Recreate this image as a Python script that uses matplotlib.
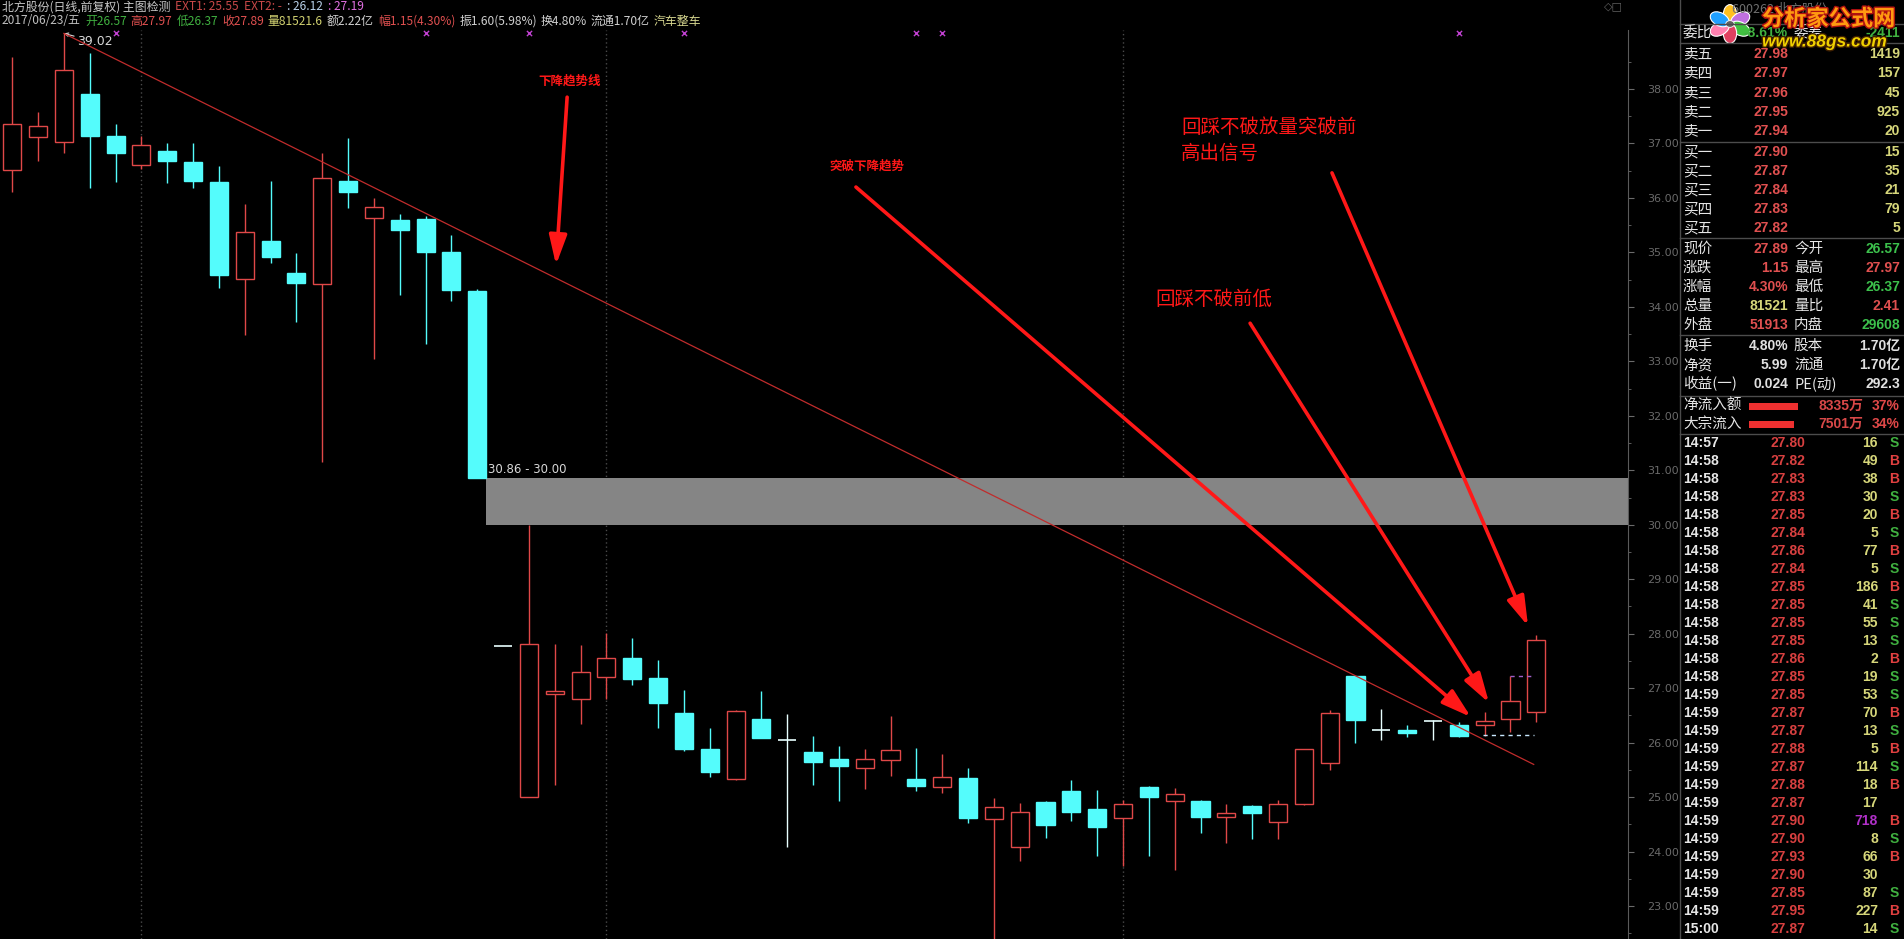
import matplotlib
matplotlib.use("Agg")
import matplotlib.pyplot as plt
import matplotlib.patheffects as pe
from matplotlib.patches import Rectangle, Ellipse
import numpy as np

plt.rcParams['font.family'] = ['Noto Sans CJK SC', 'DejaVu Sans']

W, H = 1904, 939

# ---- daily candles (北方股份, 日线 前复权) ----
opens = [36.51, 37.11, 37.02, 37.90, 37.14, 36.60, 36.86, 36.66, 36.29, 34.51,
         35.21, 34.62, 34.42, 36.31, 35.63, 35.59, 35.61, 35.00, 34.30, 27.78,
         25.01, 26.90, 26.81, 27.20, 27.55, 27.18, 26.54, 25.88, 25.33, 26.43,
         26.05, 25.83, 25.70, 25.54, 25.69, 25.33, 25.19, 25.35, 24.59, 24.08,
         24.91, 25.11, 24.78, 24.61, 25.19, 24.92, 24.93, 24.63, 24.84, 24.54,
         24.87, 25.62, 27.22, 26.23, 26.23, 26.39, 26.32, 26.32, 26.43, 26.57]
highs = [38.58, 37.57, 39.02, 38.66, 37.36, 37.14, 37.01, 37.01, 36.58, 35.89,
         36.32, 34.98, 36.82, 37.10, 35.99, 35.71, 35.66, 35.32, 34.32, 27.78,
         30.00, 27.81, 27.79, 28.01, 27.92, 27.52, 26.97, 26.27, 26.60, 26.95,
         26.53, 26.13, 25.94, 25.89, 26.48, 25.91, 25.80, 25.54, 24.98, 24.90,
         24.92, 25.31, 25.13, 24.95, 25.20, 25.16, 24.94, 24.87, 24.86, 24.95,
         25.89, 26.59, 27.23, 26.61, 26.32, 26.42, 26.37, 26.56, 27.22, 27.97]
lows = [36.11, 36.68, 36.83, 36.19, 36.30, 36.53, 36.28, 36.19, 34.34, 33.48,
        34.80, 33.73, 31.16, 35.82, 33.04, 34.21, 33.32, 34.11, 30.86, 27.78,
        25.00, 25.22, 26.34, 26.80, 27.06, 26.27, 25.85, 25.36, 25.31, 26.08,
        24.09, 25.22, 24.93, 25.14, 25.39, 25.12, 25.08, 24.53, 22.30, 23.83,
        24.25, 24.57, 23.92, 23.74, 23.92, 23.66, 24.35, 24.16, 24.24, 24.23,
        24.86, 25.49, 26.00, 26.04, 26.11, 26.04, 26.10, 26.13, 26.19, 26.37]
closes = [37.35, 37.32, 38.34, 37.14, 36.83, 36.98, 36.68, 36.32, 34.58, 35.37,
          34.91, 34.43, 36.36, 36.10, 35.83, 35.42, 35.00, 34.31, 30.86, 27.78,
          27.81, 26.95, 27.29, 27.55, 27.17, 26.72, 25.89, 25.47, 26.58, 26.09,
          26.05, 25.65, 25.58, 25.70, 25.87, 25.21, 25.37, 24.62, 24.81, 24.72,
          24.49, 24.73, 24.46, 24.87, 25.01, 25.05, 24.64, 24.71, 24.71, 24.87,
          25.88, 26.54, 26.42, 26.23, 26.18, 26.39, 26.13, 26.40, 26.76, 27.89]

peak_idx, peak_val = 2, 39.02
trend_x = [2, 58.9]
trend_y = [39.02, 25.6]
gap_low, gap_high = 30.00, 30.86
gap_from = 18
signal_idx = [4, 16, 20, 26, 35, 36, 56]
support_level, support_from = 26.14, 57
resist_level, resist_from = 27.22, 58
month_sep = [5, 23, 43]

# ---- quote panel ----
ask_names = ['卖五', '卖四', '卖三', '卖二', '卖一']
ask_prices = [27.98, 27.97, 27.96, 27.95, 27.94]
ask_vols = [1419, 157, 45, 925, 20]
bid_names = ['买一', '买二', '买三', '买四', '买五']
bid_prices = [27.90, 27.87, 27.84, 27.83, 27.82]
bid_vols = [15, 35, 21, 79, 5]

RED, GRN, YEL, WHT = '#e05050', '#3cc04c', '#d6d67a', '#e0e0e0'
stat_rows = [
    ('现价', '27.89', RED, '今开', '26.57', GRN),
    ('涨跌', '1.15', RED, '最高', '27.97', RED),
    ('涨幅', '4.30%', RED, '最低', '26.37', GRN),
    ('总量', '81521', YEL, '量比', '2.41', RED),
    ('外盘', '51913', RED, '内盘', '29608', GRN),
    ('换手', '4.80%', WHT, '股本', '1.70亿', WHT),
    ('净资', '5.99', WHT, '流通', '1.70亿', WHT),
    ('收益(一)', '0.024', WHT, 'PE(动)', '292.3', WHT),
]
flow_names = ['净流入额', '大宗流入']
flow_amounts = ['8335万', '7501万']
flow_pcts = [37, 34]

tick_times = ['14:57'] + ['14:58'] * 13 + ['14:59'] * 13 + ['15:00']
tick_prices = [27.80, 27.82, 27.83, 27.83, 27.85, 27.84, 27.86, 27.84, 27.85, 27.85,
               27.85, 27.85, 27.86, 27.85, 27.85, 27.87, 27.87, 27.88, 27.87, 27.88,
               27.87, 27.90, 27.90, 27.93, 27.90, 27.85, 27.95, 27.87]
tick_vols = [16, 49, 38, 30, 20, 5, 77, 5, 186, 41, 55, 13, 2, 19, 53, 70, 13, 5,
             114, 18, 17, 718, 8, 66, 30, 87, 227, 14]
tick_sides = ['S', 'B', 'B', 'S', 'B', 'S', 'B', 'S', 'B', 'S', 'S', 'S', 'B', 'S',
              'S', 'B', 'S', 'B', 'S', 'B', '', 'B', 'S', 'B', '', 'S', 'B', 'S']

fig = plt.figure(figsize=(W / 100, H / 100), dpi=100, facecolor='black')


def fx(x):
    return x / W


def fy(y):
    return 1 - y / H


ax = fig.add_axes([0, 0, 1628 / W, 1 - 30 / H])
ax.set_facecolor('black')
ax.set_xlim(-0.476, 62.55)
ax.set_ylim(22.395, 39.083)

up_c, dn_c, doji_c = '#e04848', '#54fcfc', '#e8ffff'
bw = 0.7
for i, (o, h, l, c) in enumerate(zip(opens, highs, lows, closes)):
    if c > o:
        ax.vlines(i, c, h, color=up_c, lw=1, zorder=3)
        ax.vlines(i, l, o, color=up_c, lw=1, zorder=3)
        ax.add_patch(Rectangle((i - bw / 2, o), bw, c - o, facecolor='black',
                               edgecolor=up_c, lw=1, zorder=3))
    elif c < o:
        ax.vlines(i, l, h, color=dn_c, lw=1, zorder=3)
        ax.add_patch(Rectangle((i - bw / 2, c), bw, o - c, facecolor=dn_c,
                               edgecolor=dn_c, lw=1, zorder=3))
    else:
        ax.vlines(i, l, h, color=doji_c, lw=1, zorder=3)
        ax.hlines(o, i - bw / 2, i + bw / 2, color=doji_c, lw=1.2, zorder=3)

# gap zone
x_right = ax.get_xlim()[1]
ax.add_patch(Rectangle((gap_from + bw / 2, gap_low), x_right - gap_from - bw / 2,
                       gap_high - gap_low, facecolor='#858585', edgecolor='none', zorder=2))
ax.text(gap_from + 0.42, gap_high + 0.16, f'{gap_high:.2f} - {gap_low:.2f}', color='#d8d8d8',
        fontsize=8.5, family='DejaVu Sans', va='center', ha='left', zorder=4)

# month separators
for xs in month_sep:
    ax.axvline(xs, color='#4a4a4a', lw=1, ls=(0, (1, 2)), zorder=1)

# downtrend line
ax.plot(trend_x, trend_y, color='#c02c2c', lw=0.9, zorder=4)

# signal marks
ax.scatter(signal_idx, [39.03] * len(signal_idx), marker='x', color='#c040d0',
           s=14, lw=1, zorder=5, clip_on=False)

# peak label
ax.annotate(f'{peak_val:.2f}', xy=(peak_idx, peak_val), xytext=(peak_idx + 0.5, 38.87),
            color='#d8d8d8', fontsize=9, family='DejaVu Sans', va='center', ha='left',
            arrowprops=dict(arrowstyle='->', color='#d8d8d8', lw=0.8, shrinkA=0, shrinkB=0,
                            mutation_scale=6))

# support / resistance dashes
ax.hlines(support_level, support_from - 0.06, 58.92, colors='#c8e8ff', lw=1,
          linestyles=(0, (3, 3)), zorder=4)
ax.hlines(resist_level, resist_from - 0.02, 58.92, colors='#a060c8', lw=1,
          linestyles=(0, (3, 3)), zorder=4)

# annotations
arrow_red = '#ff1818'
aprops = dict(arrowstyle='-|>,head_length=0.9,head_width=0.27', color=arrow_red, lw=2.6,
              mutation_scale=20, shrinkA=0, shrinkB=0)
ax.text(21.59, 38.15, '下降趋势线', color=arrow_red, fontsize=9, fontweight='bold',
        ha='center', va='center', zorder=6)
ax.annotate('', xy=(21.05, 34.77), xytext=(21.48, 37.85), arrowprops=aprops, zorder=6)
ax.text(33.09, 36.59, '突破下降趋势', color=arrow_red, fontsize=9, fontweight='bold',
        ha='center', va='center', zorder=6)
ax.annotate('', xy=(56.47, 26.47), xytext=(32.66, 36.2), arrowprops=aprops, zorder=6)
ax.text(46.52, 34.13, '回踩不破前低', color=arrow_red, fontsize=14,
        ha='center', va='center', zorder=6)
ax.annotate('', xy=(57.17, 26.73), xytext=(47.92, 33.70), arrowprops=aprops, zorder=6)
ax.text(45.25, 37.48, '回踩不破放量突破前\n高出信号', color=arrow_red, fontsize=14,
        ha='left', va='top', linespacing=1.3, zorder=6)
ax.annotate('', xy=(58.68, 28.14), xytext=(51.09, 36.46), arrowprops=aprops, zorder=6)

# price axis on the right
ax.yaxis.tick_right()
ax.set_yticks(np.arange(23, 39))
ax.set_yticklabels([f'{v:.2f}' for v in np.arange(23, 39)])
ax.set_yticks(np.arange(22.5, 39, 1.0), minor=True)
ax.tick_params(axis='y', which='major', colors='#6a6a6a', length=4, pad=10, labelsize=8)
ax.tick_params(axis='y', which='minor', colors='#6a6a6a', length=2)
for lbl in ax.get_yticklabels():
    lbl.set_fontfamily('DejaVu Sans')
ax.set_xticks([])
for side in ['left', 'top', 'bottom']:
    ax.spines[side].set_visible(False)
ax.spines['right'].set_color('#5a5a5a')

# ---- header lines ----
renderer = fig.canvas.get_renderer()


def seq_text(x, y, parts, size, gap=5):
    for s, col in parts:
        t = fig.text(fx(x), fy(y), s, color=col, fontsize=size, va='center', ha='left')
        x += t.get_window_extent(renderer=renderer).width + gap


seq_text(2, 7, [('北方股份(日线,前复权) 主图检测', '#c8c8c8'), ('EXT1: 25.55', '#c84848'),
                ('EXT2: -', '#c84848'), (': 26.12', '#b8d0e8'), (': 27.19', '#e070e0')], 8.6)
seq_text(2, 21, [('2017/06/23/五', '#c0c0c0'), ('开26.57', '#40b040'), ('高27.97', '#e05050'),
                 ('低26.37', '#40b040'), ('收27.89', '#e05050'), ('量81521.6', '#d0d070'),
                 ('额2.22亿', '#d0d0d0'), ('幅1.15(4.30%)', '#e05050'),
                 ('振1.60(5.98%)', '#d0d0d0'), ('换4.80%', '#d0d0d0'),
                 ('流通1.70亿', '#d0d0d0'), ('汽车整车', '#d8d890')], 8.6, gap=4)
fig.text(fx(1604), fy(6), '◇□', color='#606060', fontsize=8, family='DejaVu Sans',
         va='center', ha='left')

# ---- quote panel ----
line_c = '#4c4c4c'
fig.add_artist(plt.Line2D([fx(1680), fx(1680)], [0, 1], color=line_c, lw=1))
for yy in [24, 43, 142, 238, 335, 396, 434]:
    fig.add_artist(plt.Line2D([fx(1680), 1], [fy(yy), fy(yy)], color=line_c, lw=1))

lab_kw = dict(fontsize=10.5, color='#e6e6e6', va='center', ha='left')
num_font = ['Liberation Sans', 'Noto Sans CJK SC']
num_kw = dict(fontsize=10, fontweight='bold', family=num_font, va='center', ha='right')

fig.text(fx(1732), fy(9), '600262 北方股份', color='#707070', fontsize=9, va='center')
fig.text(fx(1683), fy(33), '委比', **lab_kw)
fig.text(fx(1788), fy(33), '-8.61%', color='#40b040', **num_kw)
fig.text(fx(1794), fy(33), '委差', **lab_kw)
fig.text(fx(1900), fy(33), '-2411', color='#40b040', **num_kw)

book_y = [54, 73, 93, 112, 131, 152, 171, 190, 209, 228]
for k, (nm, pr, vl) in enumerate(zip(ask_names + bid_names, ask_prices + bid_prices,
                                     ask_vols + bid_vols)):
    y = book_y[k]
    fig.text(fx(1683), fy(y), nm, **lab_kw)
    fig.text(fx(1788), fy(y), f'{pr:.2f}', color=RED, **num_kw)
    fig.text(fx(1900), fy(y), f'{vl}', color=YEL, **num_kw)

stat_y = [249, 268, 287, 306, 325, 346, 365, 384]
for y, (l1, v1, c1, l2, v2, c2) in zip(stat_y, stat_rows):
    fig.text(fx(1683), fy(y), l1, **lab_kw)
    fig.text(fx(1788), fy(y), v1, color=c1, **num_kw)
    fig.text(fx(1794), fy(y), l2, **lab_kw)
    fig.text(fx(1900), fy(y), v2, color=c2, **num_kw)

for y, nm, amt, pct in zip([406, 424], flow_names, flow_amounts, flow_pcts):
    fig.text(fx(1683), fy(y), nm, **lab_kw)
    fig.add_artist(Rectangle((fx(1749), fy(y + 4)), fx(pct * 1.32), 7 / H,
                             facecolor='#ee3030', edgecolor='none'))
    fig.text(fx(1863), fy(y), amt, color='#d84848', **num_kw)
    fig.text(fx(1900), fy(y), f'{pct}%', color='#e04848', **num_kw)

for k, (t, pr, vl, sd) in enumerate(zip(tick_times, tick_prices, tick_vols, tick_sides)):
    y = 443 + 18 * k
    fig.text(fx(1683), fy(y), t, color='#e6e6e6', fontsize=10, fontweight='bold',
             family=num_font, va='center', ha='left')
    fig.text(fx(1805), fy(y), f'{pr:.2f}', color='#d84040', **num_kw)
    vcol = '#b030c8' if vl >= 500 else YEL
    fig.text(fx(1878), fy(y), f'{vl}', color=vcol, **num_kw)
    if sd:
        fig.text(fx(1894), fy(y), sd, color='#e04040' if sd == 'B' else '#40b040',
                 fontsize=10, fontweight='bold', family=num_font, va='center', ha='center')

# ---- watermark logo ----
lax = fig.add_axes([fx(1702), fy(46), 56 / W, 44 / H])
lax.set_xlim(-1.3, 1.3)
lax.set_ylim(-1.05, 1.05)
lax.axis('off')
petal_cols = ['#ffc020', '#c070e0', '#40c040', '#e04060', '#ff80b0', '#20a0ff']
for k, col in enumerate(petal_cols):
    ang = np.deg2rad(90 - 60 * k)
    lax.add_patch(Ellipse((0.55 * np.cos(ang), 0.45 * np.sin(ang)), 0.95, 0.62,
                          angle=np.rad2deg(ang), facecolor=col, edgecolor='white', lw=0.8))
lax.add_patch(Ellipse((0, 0), 0.4, 0.32, facecolor='#606060', edgecolor='white', lw=0.6))

fig.text(fx(1762), fy(19), '分析家公式网', color='#ff9a10', fontsize=16, fontweight='bold',
         va='center', ha='left',
         path_effects=[pe.withStroke(linewidth=2, foreground='#b01010')])
fig.text(fx(1762), fy(42), 'www.88gs.com', color='#f0d000', fontsize=12.5,
         fontweight='bold', style='italic', family=num_font, va='center', ha='left',
         path_effects=[pe.withStroke(linewidth=2, foreground='#402000')])

fig.savefig('out.png', dpi=100, facecolor='black')
